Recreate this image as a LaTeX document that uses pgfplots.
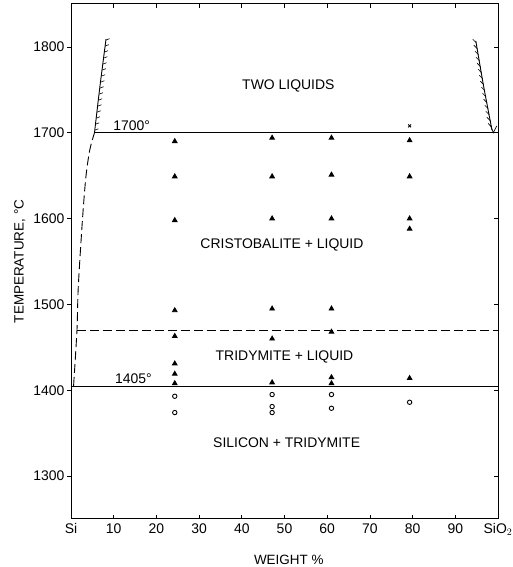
\documentclass[border=0pt]{standalone}
\usepackage{fontspec}
\setmainfont{Liberation Sans}
\usepackage{pgfplots}
\pgfplotsset{compat=1.18}

\begin{document}
\begin{tikzpicture}
\begin{axis}[
  name=ax,
  scale only axis,
  width=427bp, height=515bp,
  xmin=0, xmax=100, ymin=1250, ymax=1850,
  axis line style={line width=1bp},
  xtick={0,10,20,30,40,50,60,70,80,90,100},
  xticklabels={Si,10,20,30,40,50,60,70,80,90,SiO$_2$},
  ytick={1300,1400,1500,1600,1700,1800},
  yticklabels={1300,1400,1500,1600,1700,1800},
  ytick pos=left,
  xtick align=inside, ytick align=outside,
  major tick length=4bp,
  tick style={line width=0.8bp, black},
  tick label style={font=\fontsize{14}{16}\selectfont},
  xticklabel style={yshift=-1bp},
  yticklabel style={xshift=1bp},
  xlabel={WEIGHT \%},
  ylabel={TEMPERATURE, °C},
  label style={font=\fontsize{13.5}{16}\selectfont},
  xlabel style={at={(axis description cs:0.51,0)}, anchor=center, yshift=-41bp},
  ylabel style={at={(axis description cs:-0.12,0.5)}, anchor=center},
  every axis plot/.append style={line width=0.9bp, black},
  clip=false,
]

% invariant lines
\addplot[mark=none] coordinates {(5.5,1700) (100,1700)};
\addplot[mark=none] coordinates {(0,1405) (100,1405)};
\addplot[mark=none, dash pattern=on 9bp off 4bp] coordinates {(1.4,1470) (100,1470)};

% liquidus on the silicon side
\addplot[mark=none, smooth, dash pattern=on 9bp off 4bp] coordinates {
  (0.6,1405) (1.4,1470) (1.7,1520) (2.7,1600) (3.5,1649) (4.4,1680) (5.5,1700)};

% miscibility gap boundaries
\addplot[mark=none, smooth] coordinates {(5.5,1700) (6.8,1755) (8.2,1809)};
\addplot[mark=none, smooth] coordinates {(98.6,1703) (96.6,1755) (94.8,1807)};
\addplot[mark=none, line width=0.7bp] coordinates {(98.2,1709) (98.9,1700) (99.7,1708)};

% hatching on the two-liquid side of each boundary
\addplot[-, line width=0.6bp, quiver={u=0.85, v=1.6}] table[row sep=\\] {
  x y\\ 5.57 1703\\ 5.75 1710\\ 5.92 1717\\ 6.10 1724\\ 6.27 1731\\ 6.44 1738\\
  6.62 1745\\ 6.79 1752\\ 6.96 1759\\ 7.14 1766\\ 7.31 1773\\ 7.48 1780\\
  7.66 1787\\ 7.83 1794\\ 8.00 1801\\ 8.18 1808\\};
\addplot[-, line width=0.6bp, quiver={u=-0.8, v=4}] table[row sep=\\] {
  x y\\ 98.45 1707\\ 98.20 1714\\ 97.94 1721\\ 97.69 1728\\ 97.43 1735\\
  97.18 1742\\ 96.92 1749\\ 96.67 1756\\ 96.41 1763\\ 96.15 1770\\
  95.90 1777\\ 95.64 1784\\ 95.39 1791\\ 95.13 1798\\ 94.88 1805\\};

% quench experiments: liquid present
\addplot[only marks, mark=triangle*, mark size=2.6bp] coordinates {
  (24.3,1690) (24.3,1649) (24.3,1598) (24.3,1493) (24.3,1463) (24.3,1431) (24.3,1419) (24.3,1408)
  (47.1,1694) (47.1,1649) (47.1,1600) (47.1,1495) (47.1,1460) (47.1,1409)
  (61.0,1694) (61.0,1651) (61.0,1600) (61.0,1495) (61.0,1468) (61.0,1415) (61.0,1408)
  (79.3,1691) (79.3,1649) (79.3,1600) (79.3,1588) (79.3,1414)};
% solid silicon + tridymite
\addplot[only marks, mark=o, mark size=2.2bp, line width=0.9bp] coordinates {
  (24.3,1393) (24.3,1374) (47.1,1395) (47.1,1381) (47.1,1374)
  (61.0,1395) (61.0,1379) (79.3,1386)};
% two liquids
\addplot[only marks, mark=x, mark size=2bp, line width=0.8bp] coordinates {(79.3,1708)};

% field labels
\begin{scope}[every node/.style={font=\fontsize{14}{16}\selectfont, inner sep=0pt}]
\node at (axis cs:50.9,1755) {TWO LIQUIDS};
\node at (axis cs:49.4,1569) {CRISTOBALITE + LIQUID};
\node at (axis cs:50.0,1439) {TRIDYMITE + LIQUID};
\node at (axis cs:50.5,1339) {SILICON + TRIDYMITE};
\node[anchor=south] at (axis cs:14.2,1702) {1700°};
\node[anchor=south] at (axis cs:14.6,1407) {1405°};
\end{scope}
\end{axis}

% inward ticks along the right-hand temperature axis
\begin{axis}[
  scale only axis,
  width=427bp, height=515bp,
  xmin=0, xmax=100, ymin=1250, ymax=1850,
  hide x axis,
  axis y line*=right,
  axis line style={line width=1bp, -},
  ytick={1300,1400,1500,1600,1700,1800},
  yticklabels={},
  ytick align=inside,
  major tick length=4bp,
  tick style={line width=0.8bp, black},
]
\end{axis}

\pgfresetboundingbox
\path[use as bounding box] ([shift={(-71bp,-48bp)}]ax.south west) rectangle ([shift={(14bp,4bp)}]ax.north east);
\end{tikzpicture}
\end{document}
